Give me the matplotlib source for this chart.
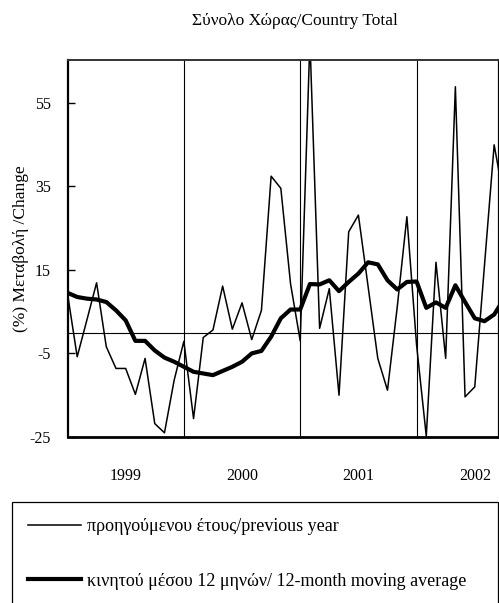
import numpy as np
import matplotlib
matplotlib.use("Agg")
import matplotlib.pyplot as plt

plt.rcParams['font.family'] = ['Liberation Serif', 'DejaVu Serif']
plt.rcParams['axes.unicode_minus'] = False

# monthly, Jan 1999 onwards
yoy = [9.3, -5.8, 3.0, 11.9, -3.4, -8.6, -8.6, -14.8, -6.2, -21.8, -24.0, -11.4,
       -2.1, -20.6, -1.2, 0.6, 11.1, 0.8, 7.1, -1.7, 5.3, 37.4, 34.5, 11.7,
       -2.0, 70.0, 1.0, 10.5, -15.0, 24.1, 28.1, 11.0, -6.2, -13.8, 6.0, 27.7,
       -3.0, -24.8, 16.8, -6.2, 58.8, -15.4, -13.0, 16.0, 44.9, 32.0]
mov_avg = [9.5, 8.5, 8.1, 7.9, 7.3, 5.3, 2.9, -2.0, -2.0, -4.3, -6.0, -7.0,
           -8.2, -9.4, -9.8, -10.2, -9.2, -8.2, -7.0, -5.0, -4.4, -1.0, 3.4, 5.5,
           5.5, 11.6, 11.5, 12.5, 9.9, 12.1, 14.1, 16.8, 16.3, 12.5, 10.3, 12.1,
           12.2, 5.9, 7.2, 5.9, 11.3, 7.3, 3.4, 2.7, 4.3, 8.0]
years = ['1999', '2000', '2001', '2002']
yticks = [-25, -5, 15, 35, 55]

x = np.arange(len(yoy))

fig = plt.figure(figsize=(4.99, 6.03), dpi=100)
ax = fig.add_axes([67.5/499, 1-437/603, (499-67.5)/499, (437-60)/603])

l1, = ax.plot(x, yoy, color='black', lw=1.1)
l2, = ax.plot(x, mov_avg, color='black', lw=3.0)

ax.axhline(0, color='black', lw=0.8)
for k in range(1, len(years)):
    ax.axvline(12*k, color='black', lw=0.8)

ax.set_xlim(0, 44.5)
ax.set_ylim(-25, 65.2)
ax.set_yticks(yticks)
ax.tick_params(axis='y', direction='in', length=5, width=1, pad=12, labelsize=11.5)
ax.set_xticks([6 + 12*k for k in range(len(years))])
ax.set_xticklabels(years)
ax.tick_params(axis='x', length=0, pad=22, labelsize=11.5)

ax.spines['bottom'].set_linewidth(2)
ax.spines['left'].set_linewidth(1.6)
ax.spines['top'].set_linewidth(1.4)
ax.spines['top'].set_color('#333333')
ax.spines['right'].set_linewidth(1.6)

ax.set_ylabel('(%) Μεταβολή /Change', fontsize=12.5)
ax.yaxis.set_label_coords(-0.09, 0.5)

fig.text(295/499, 1-21/603, 'Σύνολο Χώρας/Country Total', ha='center', va='center',
         fontsize=12.5)

leg = fig.legend([l1, l2],
                 ['προηγούμενου έτους/previous year',
                  'κινητού μέσου 12 μηνών/ 12-month moving average'],
                 loc='upper left', bbox_to_anchor=(12/499, 1-502/603-0.1, 486/499, 0.1),
                 mode='expand', fontsize=13, handlelength=2.95, handletextpad=0.3,
                 labelspacing=2.1, borderpad=0.88, borderaxespad=0,
                 fancybox=False, framealpha=1, edgecolor='black')
leg.get_frame().set_linewidth(0.9)

fig.savefig('out.png', dpi=100)
